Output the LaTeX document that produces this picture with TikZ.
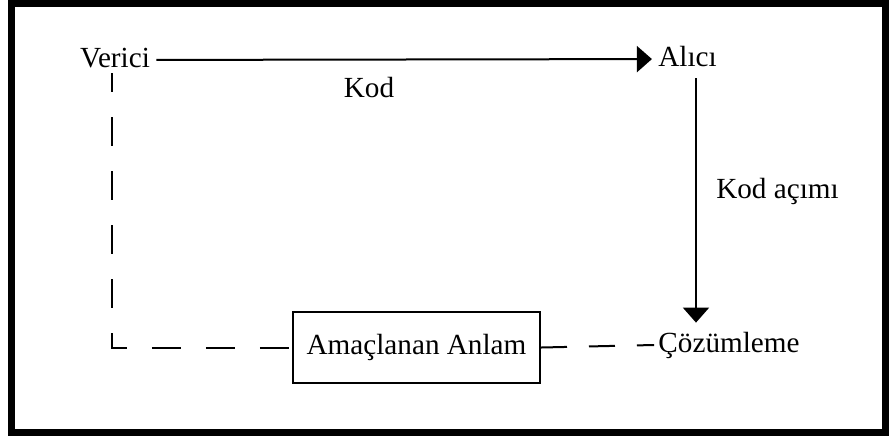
\documentclass[tikz,border=0pt]{standalone}
\usepackage{fontspec}
\setmainfont{Liberation Serif}
\usepackage{tikz}
\usetikzlibrary{positioning,arrows.meta}

\begin{document}
\begin{tikzpicture}
  [x=0.5pt,y=-0.5pt,font=\fontsize{14.6}{16}\selectfont,
   every node/.style={inner sep=3pt,text height=7pt,text depth=0pt,anchor=base},
   arr/.style={line width=1pt,-{Triangle[length=7.5pt,width=13pt]}},
   dsh/.style={line width=1pt,dash pattern=on 13pt off 11pt}]

  \useasboundingbox (0,0) rectangle (889,436);
  \draw[line width=3.5pt] (11.5,3.5) rectangle (885.5,432.5);

  \node (verici) at (115,67) {Verici};
  \node (alici) at (687.5,66) {Alıcı};
  \node (kod) at (369,97) {Kod};
  \node (acim) at (777.5,198) {Kod açımı};
  \node[inner sep=2pt] (cozum) at (729,352) {Çözümleme};
  \node[draw,line width=1pt,anchor=center,minimum width=123.5pt,minimum height=35.5pt] (anlam) at (416.5,347.5) {Amaçlanan Anlam};
  \coordinate (dn) at (696,0);
  \coordinate (lft) at (112,0);

  \draw[arr] (verici) -- (alici);
  \draw[arr,shorten <=3pt,shorten >=5.5pt] (alici.south -| dn) -- (cozum.north -| dn);
  \draw[dsh,dash pattern=on 14.5pt off 12.5pt,dash phase=5pt] (verici.south -| lft) |- (anlam.west);
  \draw[dsh] (anlam.east) -- (cozum.west);
\end{tikzpicture}
\end{document}
